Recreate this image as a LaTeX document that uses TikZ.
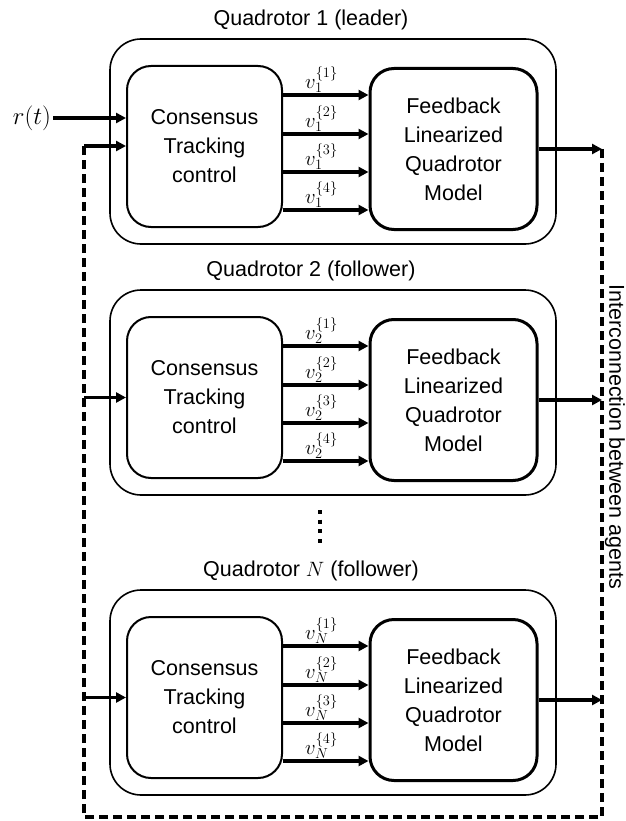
\documentclass[tikz,border=0pt]{standalone}
\usepackage[no-math]{fontspec}
\setmainfont{Liberation Sans}
\usetikzlibrary{arrows.meta}
\begin{document}
\begin{tikzpicture}[x=1pt,y=-1pt,
  outerbox/.style={draw, line width=1.6pt, rounded corners=31pt, minimum width=446pt, minimum height=205pt},
  ctrlbox/.style={draw, line width=2pt, rounded corners=24pt, minimum width=155pt, minimum height=161pt, align=center, font=\fontsize{21.5}{29}\selectfont},
  plantbox/.style={draw, line width=3pt, rounded corners=24pt, minimum width=167pt, minimum height=161pt, align=center, font=\fontsize{21.5}{29}\selectfont},
  titletext/.style={font=\fontsize{21.5}{25}\selectfont},
  sig/.style={-{Triangle[length=10pt,width=10pt]}, line width=3.4pt},
  link/.style={line width=3.2pt, dash pattern=on 9pt off 5pt},
  vlab/.style={font=\fontsize{22}{25}\selectfont, inner sep=0pt, above=1pt, pos=0.45}
]
\useasboundingbox (0,0) rectangle (625,821);

\foreach \i/\off/\ttl in {1/0/{Quadrotor 1 (leader)}, 2/251/{Quadrotor 2 (follower)}, N/551/{Quadrotor $N$ (follower)}} {
  \node[titletext] (title\i) at (311,\off+20) {\ttl};
  \node[outerbox] (outer\i) at (333,\off+141.5) {};
  \node[ctrlbox] (cons\i) at (204.5,\off+146.5) {Consensus\\Tracking\\control};
  \node[plantbox] (fb\i) at (453.5,\off+149) {Feedback\\Linearized\\Quadrotor\\Model};
  \foreach \k/\dy in {1/95,2/134,3/172,4/210} {
    \coordinate (lv\i\k) at (0,\off+\dy);
    \draw[sig] (cons\i.east |- lv\i\k) -- (fb\i.west |- lv\i\k) node[vlab] {$v_{\i}^{\{\k\}}$};
  }
}

\node[font=\fontsize{27}{30}\selectfont, inner sep=2pt] (r) at (32,118) {$r(t)$};
\draw[sig] (r.east) -- (cons1.west |- r.east);

\coordinate (tl) at (84,146);
\coordinate (bl) at (84,817);
\coordinate (br) at (602,817);
\coordinate (tr) at (602,149);
\draw[link] (tr) -- (br) -- (bl) -- (tl);
\draw[sig] (tl) -- (cons1.west |- tl);
\draw[sig] (tl |- cons2.west) -- (cons2.west);
\draw[sig] (tl |- consN.west) -- (consN.west);
\foreach \i in {1,2,N} {
  \draw[sig] (fb\i.east) -- (tr |- fb\i.east);
}

\draw[line width=4pt, dash pattern=on 4pt off 5.7pt] (320,510) -- (320,544);

\node[rotate=-90, font=\fontsize{21.5}{25}\selectfont] (ilab) at (615,437) {Interconnection between agents};
\end{tikzpicture}
\end{document}
